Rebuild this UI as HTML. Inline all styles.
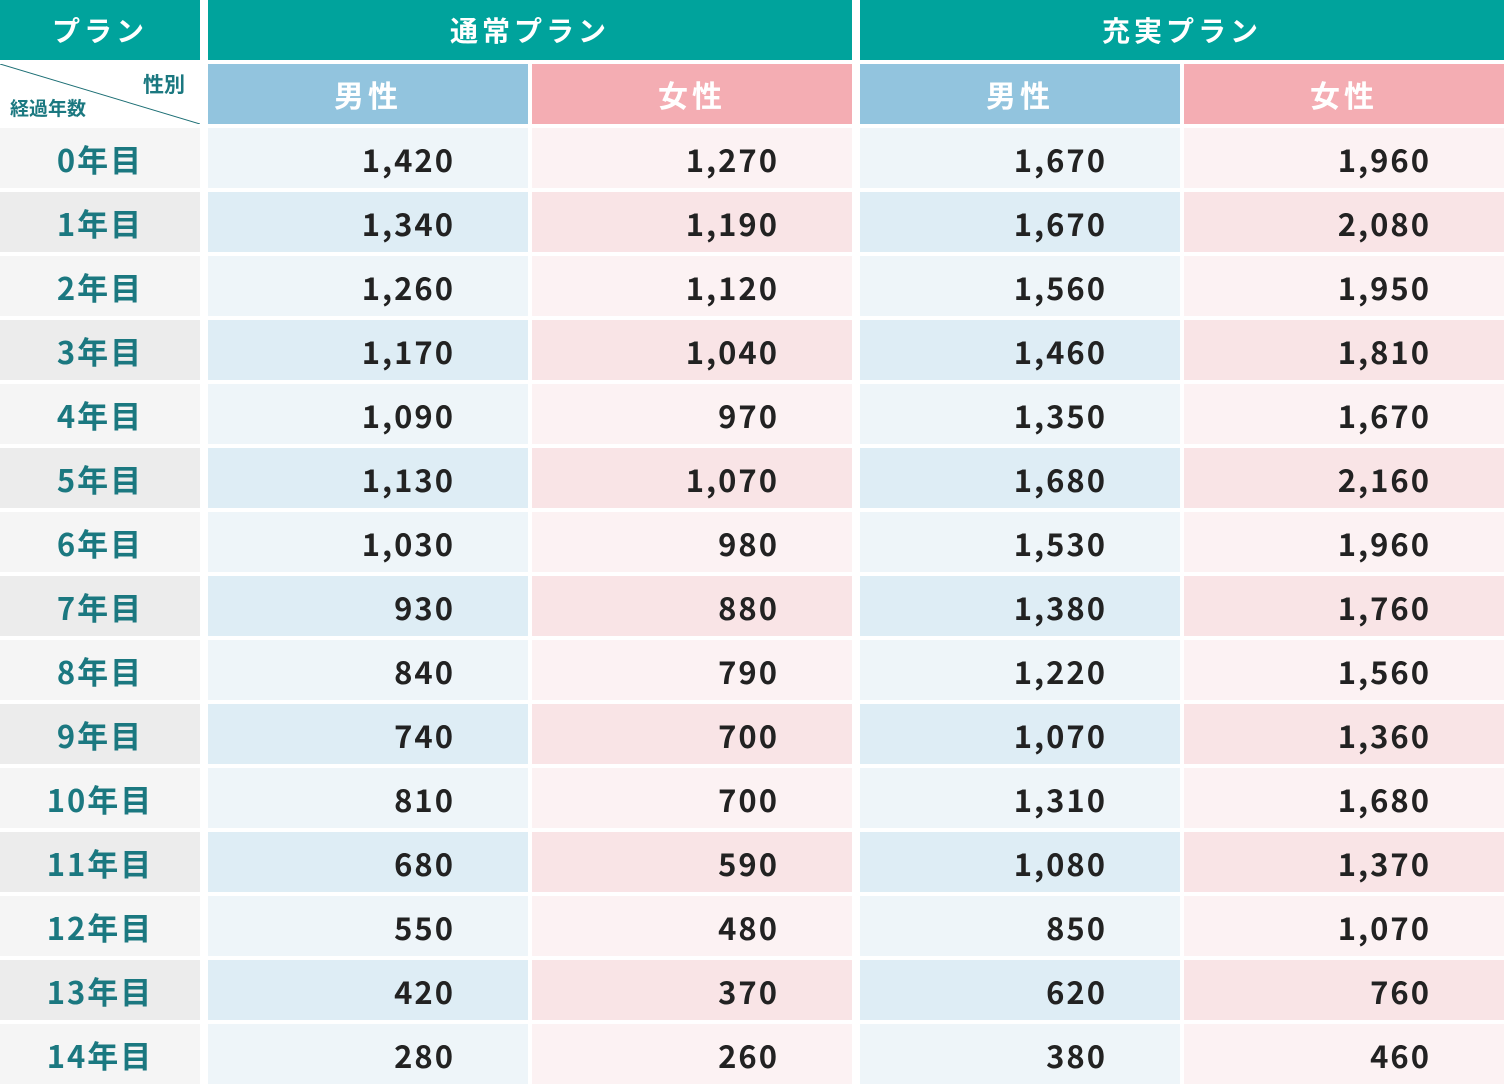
<!DOCTYPE html>
<html><head><meta charset="utf-8"><style>
body{margin:0;width:1504px;height:1086px;background:#fff;overflow:hidden;font-family:"Noto Sans CJK JP","Liberation Sans",sans-serif;}
.c{position:absolute;box-sizing:border-box;display:flex;align-items:center;}
.h{background:#00a39c;color:#fff;justify-content:center;font-size:28px;font-weight:bold;letter-spacing:4px;}
.m{background:#92c4de;color:#fff;justify-content:center;font-size:30px;font-weight:bold;letter-spacing:4px;}
.f{background:#f4adb3;color:#fff;justify-content:center;font-size:30px;font-weight:bold;letter-spacing:4px;}
.l{justify-content:center;color:#1b7880;font-size:31px;font-weight:bold;letter-spacing:2px;}
.n{justify-content:flex-end;padding-right:73px;padding-top:0px;color:#222;font-size:31px;font-weight:600;letter-spacing:2px;}
</style></head><body>
<div class="c h" style="left:0;top:0;width:200px;height:60px">プラン</div>
<div class="c h" style="left:208px;top:0;width:644px;height:60px">通常プラン</div>
<div class="c h" style="left:860px;top:0;width:644px;height:60px">充実プラン</div>
<svg style="position:absolute;left:0;top:64px" width="200" height="60"><line x1="0" y1="0" x2="200" y2="60" stroke="#1b6e74" stroke-width="1"/>
<text x="185" y="28" text-anchor="end" font-size="21" font-weight="bold" fill="#1b7880" font-family="Noto Sans CJK JP">性別</text>
<text x="10" y="51" font-size="19" font-weight="bold" fill="#1b7880" font-family="Noto Sans CJK JP">経過年数</text></svg>
<div class="c m" style="left:208px;top:64px;width:320px;height:60px">男性</div>
<div class="c f" style="left:532px;top:64px;width:320px;height:60px">女性</div>
<div class="c m" style="left:860px;top:64px;width:320px;height:60px">男性</div>
<div class="c f" style="left:1184px;top:64px;width:320px;height:60px">女性</div>
<div id="rows"></div>
<script>
var d=[["1,420","1,270","1,670","1,960"],["1,340","1,190","1,670","2,080"],["1,260","1,120","1,560","1,950"],["1,170","1,040","1,460","1,810"],["1,090","970","1,350","1,670"],["1,130","1,070","1,680","2,160"],["1,030","980","1,530","1,960"],["930","880","1,380","1,760"],["840","790","1,220","1,560"],["740","700","1,070","1,360"],["810","700","1,310","1,680"],["680","590","1,080","1,370"],["550","480","850","1,070"],["420","370","620","760"],["280","260","380","460"]];
var h="",xs=[208,532,860,1184];
d.forEach(function(r,i){var t=128+64*i,o=i%2;
h+='<div class="c l" style="left:0;top:'+t+'px;width:200px;height:60px;background:'+(o?'#ececec':'#f5f5f5')+'">'+i+'年目</div>';
r.forEach(function(v,j){var bl=j%2==0;var bg=bl?(o?'#deedf5':'#eef5f9'):(o?'#f9e4e6':'#fcf2f3');
h+='<div class="c n" style="left:'+xs[j]+'px;top:'+t+'px;width:320px;height:60px;background:'+bg+'">'+v+'</div>';});});
document.getElementById('rows').innerHTML=h;
</script>
</body></html>
